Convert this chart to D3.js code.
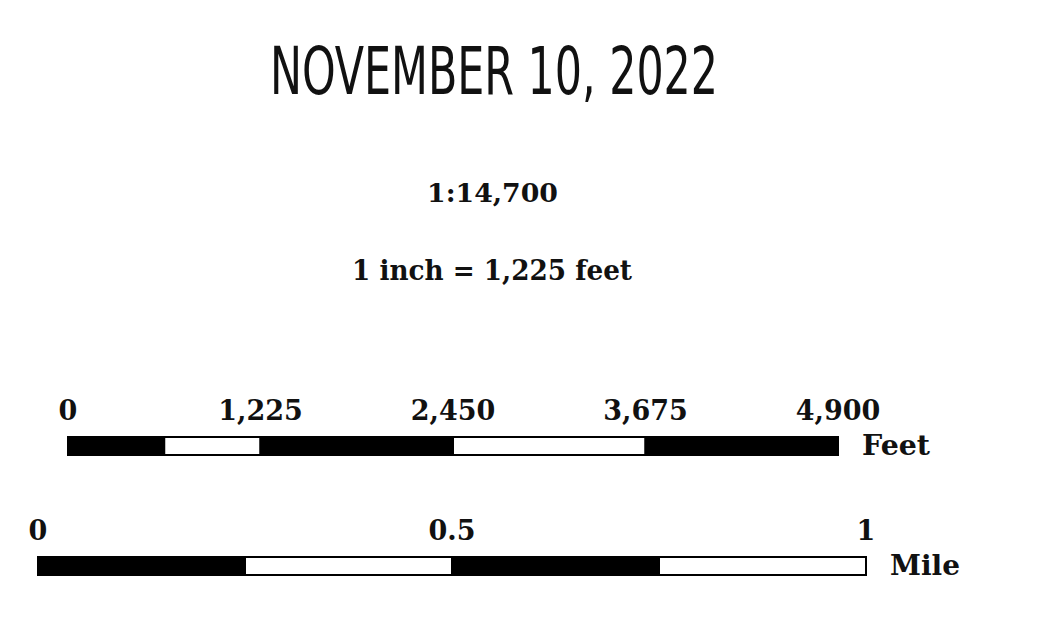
<!DOCTYPE html>
<html>
<head>
<meta charset="utf-8">
<script src="https://cdn.jsdelivr.net/npm/d3@7"></script>
<style>
  body { margin: 0; background: #fff; }
  svg { display: block; }
  .serif { font-family: "DejaVu Serif", "Liberation Serif", serif; font-weight: bold; fill: #111; }
</style>
</head>
<body>
<div id="chart"></div>
<script>
// scale bar data
const title = "NOVEMBER 10, 2022"
const ratioText = "1:14,700"
const inchText = "1 inch = 1,225 feet"

const feetBreaks = [0, 612.5, 1225, 2450, 3675, 4900]
const feetTicks = [0, 1225, 2450, 3675, 4900]
const feetUnit = "Feet"

const mileBreaks = [0, 0.25, 0.5, 0.75, 1]
const mileTicks = [0, 0.5, 1]
const mileUnit = "Mile"

const width = 1038
const height = 619

const svg = d3
  .select("#chart")
  .append("svg")
  .attr("width", width)
  .attr("height", height)

svg.append("rect").attr("width", width).attr("height", height).attr("fill", "#fff")

// title
svg
  .append("text")
  .attr("x", 494)
  .attr("y", 94)
  .attr("text-anchor", "middle")
  .attr("textLength", 448)
  .attr("lengthAdjust", "spacingAndGlyphs")
  .style("font-family", '"Liberation Sans Narrow", "DejaVu Sans Condensed", "Liberation Sans", sans-serif')
  .style("font-size", "66px")
  .attr("fill", "#111")
  .text(title)

svg
  .append("text")
  .attr("class", "serif")
  .attr("x", 492.5)
  .attr("y", 202)
  .attr("text-anchor", "middle")
  .attr("textLength", 131)
  .attr("lengthAdjust", "spacingAndGlyphs")
  .style("font-size", "26px")
  .text(ratioText)

svg
  .append("text")
  .attr("class", "serif")
  .attr("x", 492)
  .attr("y", 280)
  .attr("text-anchor", "middle")
  .attr("textLength", 280)
  .attr("lengthAdjust", "spacingAndGlyphs")
  .style("font-size", "27px")
  .text(inchText)

function drawBar(breaks, ticks, unit, unitWidth, x, barY, fmt) {
  const barH = 18
  const g = svg.append("g")

  const segs = d3.pairs(breaks)
  g.selectAll("rect")
    .data(segs)
    .enter()
    .append("rect")
    .attr("x", d => x(d[0]))
    .attr("y", barY)
    .attr("width", d => x(d[1]) - x(d[0]))
    .attr("height", barH)
    .attr("fill", (d, i) => (i % 2 === 0 ? "#000" : "#fff"))
    .attr("stroke", "#000")
    .attr("stroke-width", 2)

  g.selectAll("text.tick")
    .data(ticks)
    .enter()
    .append("text")
    .attr("class", "serif tick")
    .attr("x", d => x(d))
    .attr("y", barY - 17)
    .attr("text-anchor", "middle")
    .style("font-size", "27px")
    .text(d => fmt(d))

  g.append("text")
    .attr("class", "serif")
    .attr("x", x.range()[1] + 24)
    .attr("y", barY + 18)
    .attr("textLength", unitWidth)
    .attr("lengthAdjust", "spacingAndGlyphs")
    .style("font-size", "27px")
    .text(unit)
}

const xFeet = d3.scaleLinear().domain([0, 4900]).range([68, 838])
drawBar(feetBreaks, feetTicks, feetUnit, 68, xFeet, 437, d3.format(","))

const xMile = d3.scaleLinear().domain([0, 1]).range([38, 866])
drawBar(mileBreaks, mileTicks, mileUnit, 70, xMile, 557, d => String(d))
</script>
</body>
</html>
